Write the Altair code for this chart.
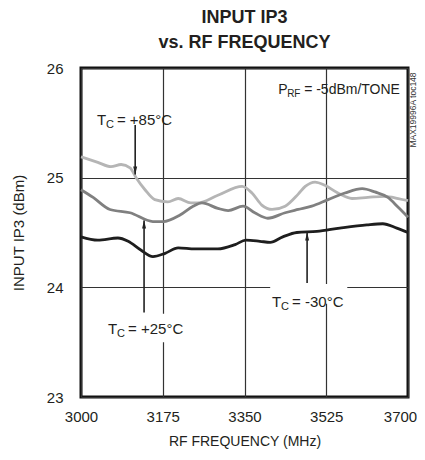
import altair as alt
import pandas as pd

# ---- data ----
freq_85 = [3000, 3036, 3064, 3086, 3105, 3118, 3137, 3158, 3186, 3208, 3235, 3250, 3293, 3345,
           3366, 3387, 3409, 3437, 3465, 3480, 3501, 3522, 3550, 3580, 3614, 3651, 3679, 3700]
ip3_85 = [25.19, 25.14, 25.10, 25.12, 25.09, 25.00, 24.89, 24.80, 24.78, 24.81, 24.77, 24.77, 24.84, 24.92,
          24.86, 24.75, 24.71, 24.74, 24.85, 24.92, 24.96, 24.93, 24.86, 24.81, 24.82, 24.83, 24.81, 24.79]

freq_25 = [3000, 3026, 3062, 3105, 3154, 3176, 3212, 3240, 3259, 3293, 3315, 3347, 3372, 3400,
           3437, 3465, 3494, 3529, 3565, 3602, 3629, 3657, 3679, 3700]
ip3_25 = [24.89, 24.82, 24.71, 24.68, 24.60, 24.60, 24.66, 24.74, 24.77, 24.72, 24.70, 24.74, 24.68, 24.63,
          24.68, 24.71, 24.74, 24.80, 24.86, 24.90, 24.87, 24.82, 24.73, 24.64]

freq_m30 = [3000, 3036, 3079, 3101, 3128, 3154, 3180, 3208, 3244, 3293, 3330, 3353, 3383, 3405,
            3432, 3462, 3505, 3554, 3612, 3646, 3676, 3700]
ip3_m30 = [24.46, 24.43, 24.45, 24.42, 24.34, 24.28, 24.31, 24.36, 24.35, 24.35, 24.39, 24.43, 24.42, 24.41,
           24.46, 24.50, 24.51, 24.54, 24.57, 24.58, 24.54, 24.50]

series_names = ["+85", "+25", "-30"]
series_colors = ["#b5b5b5", "#808080", "#1e1e1e"]

x_ticks = [3000, 3175, 3350, 3525, 3700]
y_ticks = [23, 24, 25, 26]

# annotations (data coordinates)
arrow_f = [3116, 3135, 3484]
arrow_from = [25.48, 23.77, 24.04]
arrow_to = [25.03, 24.61, 24.50]
arrow_dir = ["down", "up", "up"]

label_f = [3034, 3058, 3409]
label_v = [25.48, 23.57, 23.82]
label_rest = ["= +85°C", "= +25°C", "= -30°C"]

box_f1 = [3054, 3405]
box_f2 = [3225, 3570]
box_v1 = [23.50, 23.85]
box_v2 = [23.76, 24.03]

prf_f = [3422]
prf_v = [25.76]

FONT = "Liberation Sans"
TXT = "#231f20"

rows = []
for name, fs, vs in zip(series_names, [freq_85, freq_25, freq_m30], [ip3_85, ip3_25, ip3_m30]):
    for f, v in zip(fs, vs):
        rows.append({"series": name, "freq": f, "ip3": v})
df = pd.DataFrame(rows)

x_scale = alt.Scale(domain=[3000, 3700], nice=False, zero=False)
y_scale = alt.Scale(domain=[23, 26], nice=False, zero=False)

x_enc = alt.X("freq:Q", scale=x_scale,
              axis=alt.Axis(values=x_ticks, title="RF FREQUENCY (MHz)", grid=True,
                            labelFlush=False, format="d",
                            labelOffset=alt.condition("datum.value == 3700", alt.value(-8), alt.value(0))))
y_enc = alt.Y("ip3:Q", scale=y_scale,
              axis=alt.Axis(values=y_ticks, title="INPUT IP3 (dBm)", grid=True, format="d"))

lines = alt.Chart(df).mark_line(strokeWidth=2.8, interpolate="monotone").encode(
    x=x_enc, y=y_enc,
    color=alt.Color("series:N", scale=alt.Scale(domain=series_names, range=series_colors), legend=None),
    detail="series:N",
)

box_df = pd.DataFrame({"f1": box_f1, "f2": box_f2, "v1": box_v1, "v2": box_v2})
boxes = alt.Chart(box_df).mark_rect(color="white").encode(
    x=alt.X("f1:Q", scale=x_scale), x2="f2:Q",
    y=alt.Y("v1:Q", scale=y_scale), y2="v2:Q",
)

arr_df = pd.DataFrame({"freq": arrow_f, "v0": arrow_from, "ip3": arrow_to, "dir": arrow_dir})
shafts = alt.Chart(arr_df).mark_rule(color="#222222", strokeWidth=1.6).encode(
    x=alt.X("freq:Q", scale=x_scale), y=alt.Y("v0:Q", scale=y_scale), y2="ip3:Q",
)
heads_down = alt.Chart(arr_df[arr_df["dir"] == "down"]).mark_point(
    shape="M-0.5,-2L0.5,-2L0,0Z", filled=True, color="#222222", opacity=1, size=64
).encode(x=alt.X("freq:Q", scale=x_scale), y=alt.Y("ip3:Q", scale=y_scale))
heads_up = alt.Chart(arr_df[arr_df["dir"] == "up"]).mark_point(
    shape="M-0.5,2L0.5,2L0,0Z", filled=True, color="#222222", opacity=1, size=64
).encode(x=alt.X("freq:Q", scale=x_scale), y=alt.Y("ip3:Q", scale=y_scale))

lab_df = pd.DataFrame({"freq": label_f, "ip3": label_v, "rest": label_rest})
t_main = alt.Chart(lab_df).mark_text(align="left", baseline="alphabetic", font=FONT, fontSize=15,
                                     color=TXT, text="T").encode(
    x=alt.X("freq:Q", scale=x_scale), y=alt.Y("ip3:Q", scale=y_scale))
t_sub = alt.Chart(lab_df).mark_text(align="left", baseline="alphabetic", font=FONT, fontSize=11,
                                    color=TXT, text="C", dx=9, dy=3).encode(
    x=alt.X("freq:Q", scale=x_scale), y=alt.Y("ip3:Q", scale=y_scale))
t_rest = alt.Chart(lab_df).mark_text(align="left", baseline="alphabetic", font=FONT, fontSize=15,
                                     color=TXT, dx=20).encode(
    x=alt.X("freq:Q", scale=x_scale), y=alt.Y("ip3:Q", scale=y_scale), text="rest:N")

prf_df = pd.DataFrame({"freq": prf_f, "ip3": prf_v})
p_main = alt.Chart(prf_df).mark_text(align="left", baseline="alphabetic", font=FONT, fontSize=14,
                                     color=TXT, text="P").encode(
    x=alt.X("freq:Q", scale=x_scale), y=alt.Y("ip3:Q", scale=y_scale))
p_sub = alt.Chart(prf_df).mark_text(align="left", baseline="alphabetic", font=FONT, fontSize=10,
                                    color=TXT, text="RF", dx=9, dy=3).encode(
    x=alt.X("freq:Q", scale=x_scale), y=alt.Y("ip3:Q", scale=y_scale))
p_rest = alt.Chart(prf_df).mark_text(align="left", baseline="alphabetic", font=FONT, fontSize=14,
                                     color=TXT, text="= -5dBm/TONE", dx=26).encode(
    x=alt.X("freq:Q", scale=x_scale), y=alt.Y("ip3:Q", scale=y_scale))

mark_id = alt.Chart(pd.DataFrame({"t": ["MAX19996A toc148"]})).mark_text(
    angle=270, align="center", baseline="middle", font=FONT, fontSize=8.5, color="#333333"
).encode(x=alt.value(332), y=alt.value(42), text="t:N")

chart = alt.layer(lines, boxes, shafts, heads_down, heads_up, t_main, t_sub, t_rest,
                  p_main, p_sub, p_rest, mark_id).properties(
    width=327, height=329,
    autosize=alt.AutoSizeParams(type="none"),
    padding={"left": 73, "top": 60, "right": 9, "bottom": 55},
    title=alt.TitleParams(text=["INPUT IP3", "vs. RF FREQUENCY"], font=FONT, fontSize=18,
                          fontWeight="bold", color=TXT, lineHeight=25, anchor="middle", offset=9),
).configure_view(
    stroke="#111111", strokeWidth=3
).configure_axis(
    domain=False, ticks=False, tickSize=0,
    gridColor="#333333", gridWidth=1.2, gridOpacity=1,
    labelFont=FONT, labelFontSize=15, labelColor=TXT,
    titleFont=FONT, titleColor=TXT, titleFontWeight="normal",
).configure_axisX(
    labelPadding=12, titlePadding=10, labelBaseline="top", titleFontSize=14
).configure_axisY(
    labelPadding=18, titlePadding=20, titleFontSize=15
)

chart.save("out.html", embed_options={"renderer": "svg", "actions": False})
